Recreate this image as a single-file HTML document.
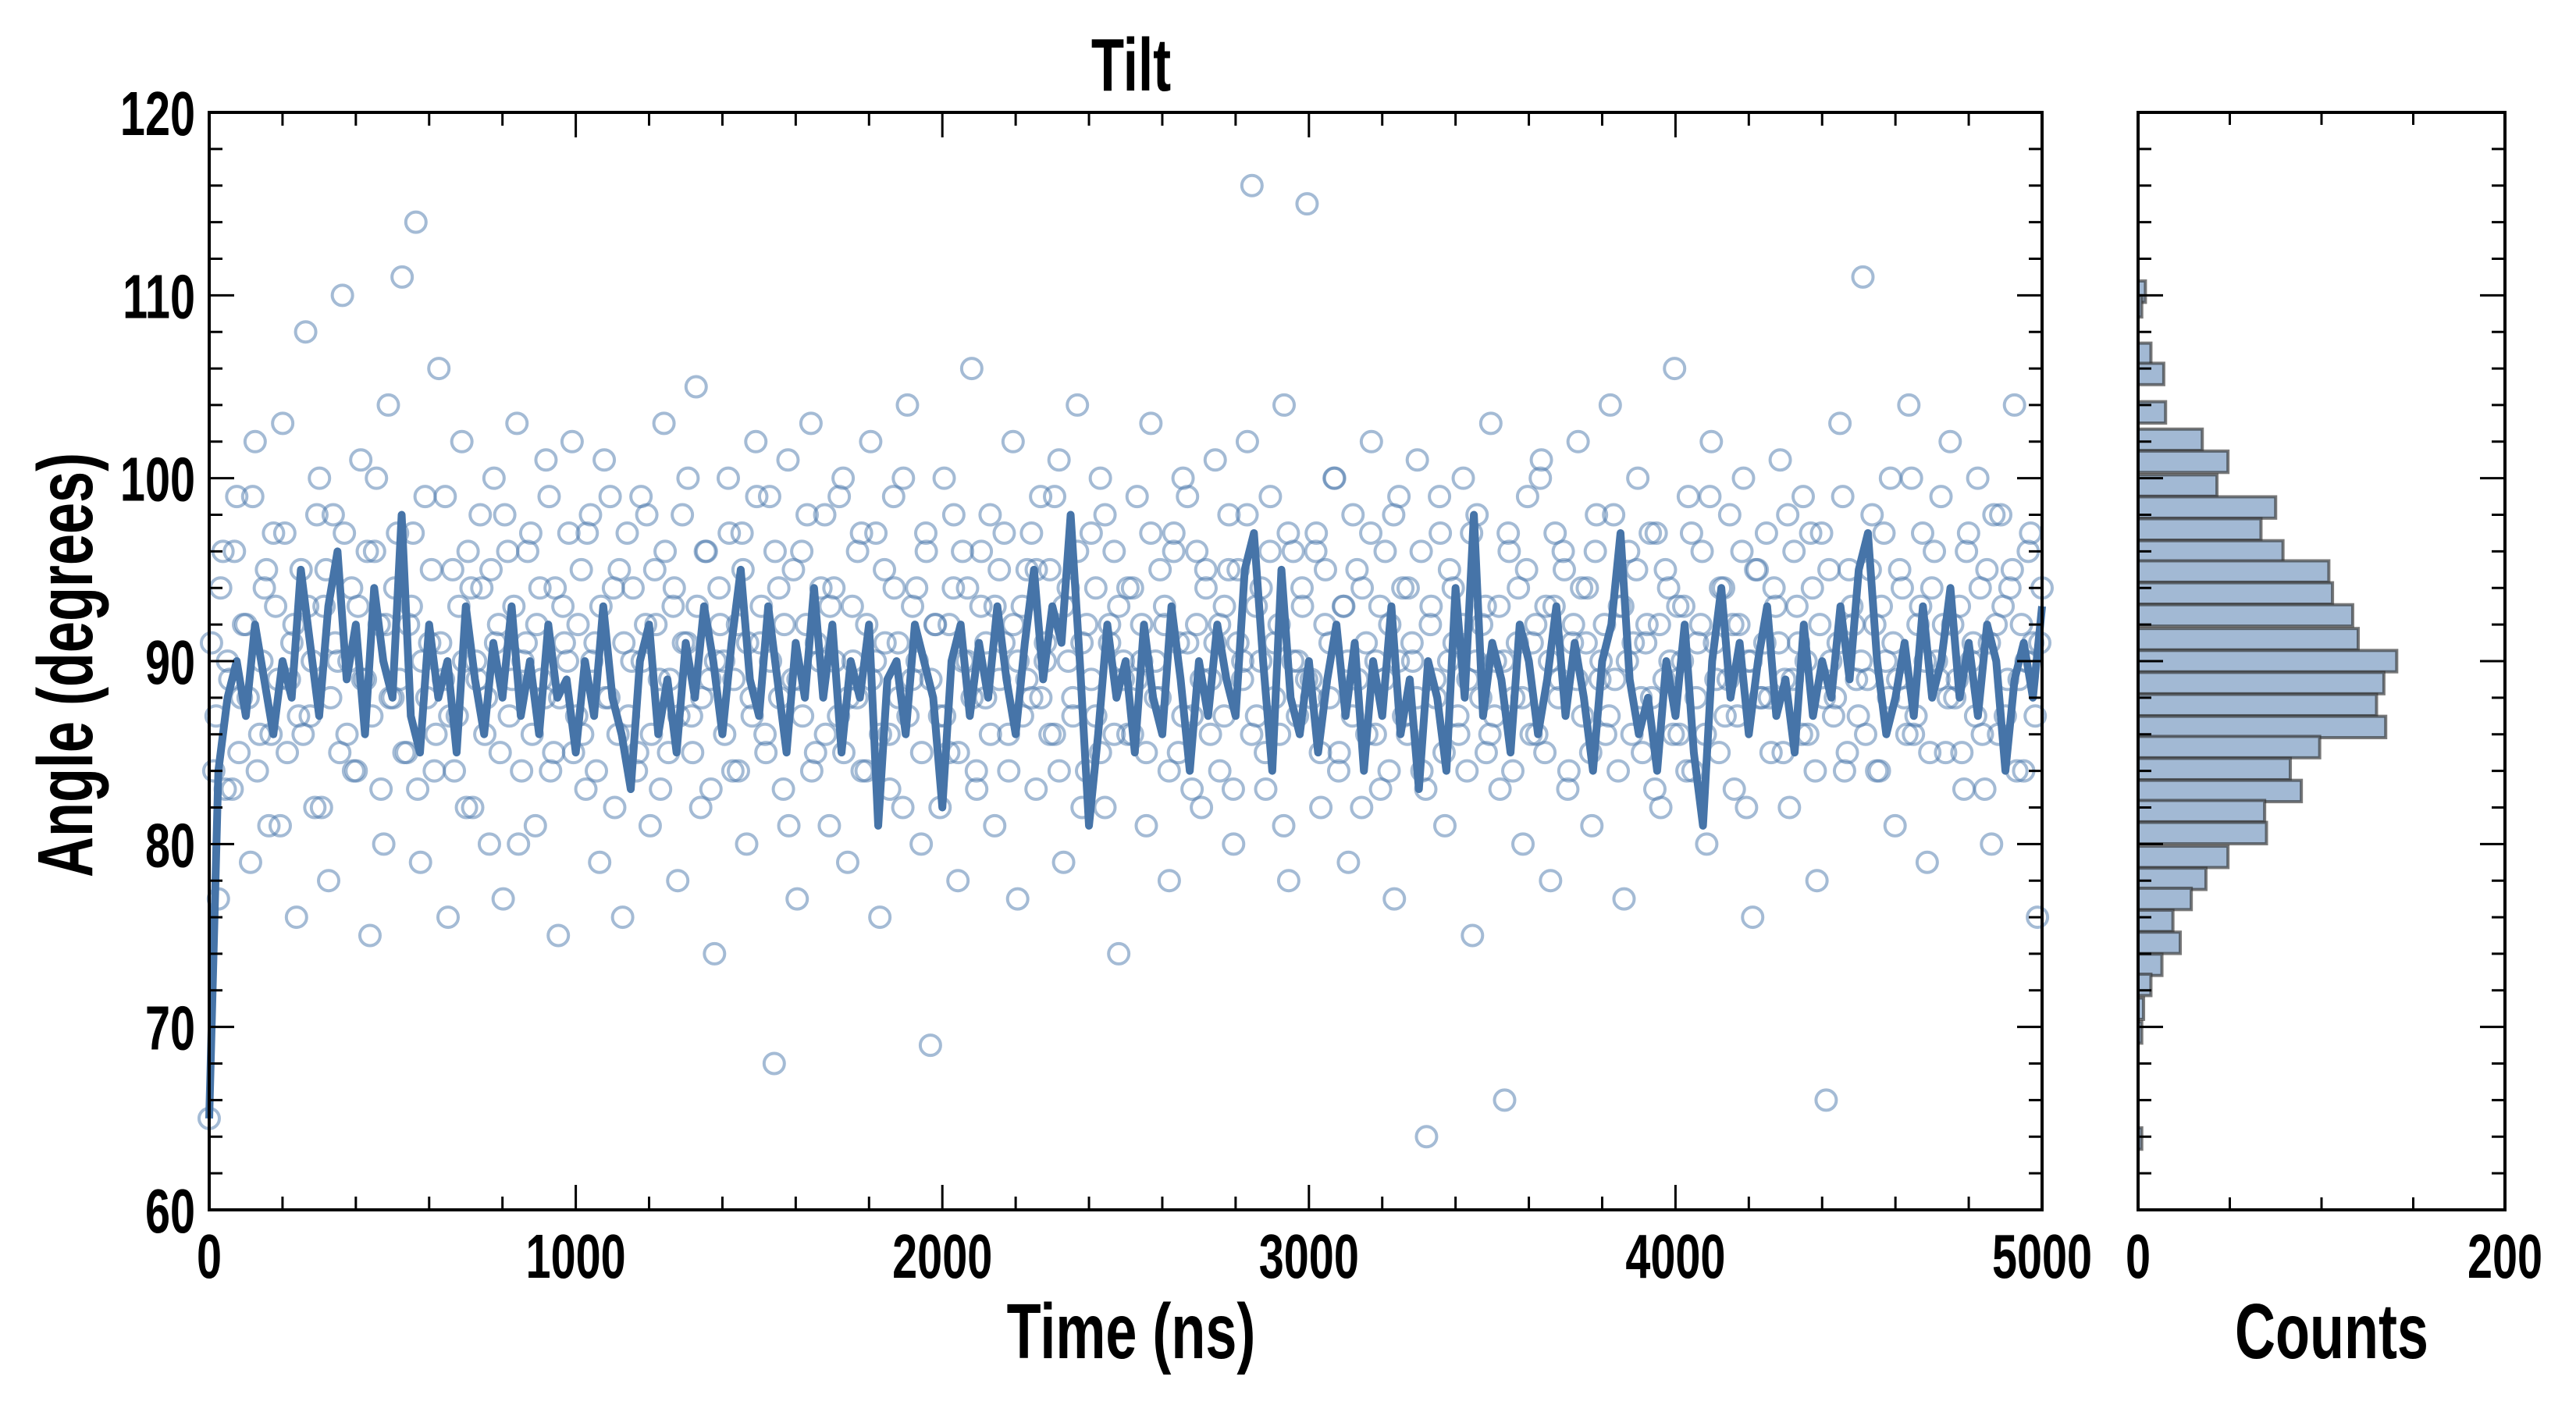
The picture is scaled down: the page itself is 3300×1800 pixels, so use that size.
<!DOCTYPE html>
<html><head><meta charset="utf-8"><style>
html,body{margin:0;padding:0;background:#fff}
svg{display:block}
text{font-family:"Liberation Sans Narrow","Liberation Sans",sans-serif;font-weight:bold;fill:#000}
</style></head><body>
<svg id="chart" width="3300" height="1800" viewBox="0 0 3300 1800" xmlns="http://www.w3.org/2000/svg"></svg>
<script>
// ---- data ----
const lineTimes = Array.from({length:201},(_,i)=>i*25);
const lineAngles = [65,84,88,90,87,92,89,86,90,88,95,91,87,93,96,89,92,86,94,90,88,98,87,85,92,88,90,85,93,89,86,91,88,93,87,90,86,92,88,89,85,90,87,93,88,86,83,90,92,86,89,85,91,88,93,90,86,91,95,89,87,93,89,85,91,88,94,88,92,85,90,88,92,81,89,90,86,92,90,88,82,90,92,87,91,88,93,89,86,91,95,89,93,91,98,90,81,86,92,88,90,85,92,88,86,93,89,84,90,87,92,89,87,95,97,90,84,95,88,86,90,85,89,92,87,91,84,90,87,93,86,89,83,90,88,84,94,88,98,87,91,89,85,92,90,86,89,93,87,91,88,84,90,92,97,89,86,88,84,90,87,92,85,81,90,94,88,91,86,90,93,87,89,85,92,87,90,88,93,89,95,97,90,86,88,91,87,93,88,90,94,88,91,87,92,90,84,89,91,88,93];
const scatterAngles = [
65,84,77,96,90,83,99,88,92,79,102,86,94,81,97,89,103,85,91,76,
95,108,87,82,100,93,78,98,90,110,86,94,84,101,89,75,96,92,80,104,
88,97,111,85,93,114,79,99,91,84,106,89,76,95,87,102,82,94,90,98,
86,80,100,92,77,96,89,103,84,91,97,81,94,88,99,85,75,93,90,102,
87,95,83,98,91,79,101,88,94,86,76,97,90,84,99,92,81,95,89,103,
85,93,78,98,91,87,105,82,96,89,74,94,90,100,84,92,97,80,88,102,
91,86,99,68,94,83,101,89,77,96,92,103,85,90,98,81,94,87,100,79,
93,88,97,84,102,90,76,95,86,99,91,82,104,89,94,80,97,69,92,87,
100,85,94,78,96,90,106,84,93,88,98,81,95,91,86,102,77,93,89,97,
83,99,90,95,86,101,79,94,88,104,91,84,97,87,100,82,92,96,74,89,
94,86,99,90,81,103,88,95,92,78,97,85,100,91,87,96,82,94,89,101,
84,93,98,80,95,90,102,116,87,94,83,99,91,86,104,78,96,90,93,115,
88,97,82,95,91,100,85,93,79,98,89,94,86,102,90,83,96,92,77,99,
87,94,90,101,84,64,93,88,97,81,95,91,86,100,89,75,98,92,85,103,
90,83,66,96,88,94,80,99,91,86,101,93,78,97,89,95,84,92,102,87,
94,81,98,90,86,104,89,93,77,96,91,100,85,92,88,97,82,95,90,106,
86,93,99,84,91,96,80,102,89,94,87,98,83,92,100,90,76,95,88,97,
85,93,101,89,82,96,91,99,86,94,78,97,66,90,88,103,84,95,92,87,
111,89,98,84,93,90,100,81,95,88,104,86,92,97,79,94,90,99,85,102,
88,93,83,97,91,100,86,95,80,92,98,87,94,104,89,84,96,91,76,94];
const scatterAngles2 = [
91,87,94,83,89,96,85,92,88,99,84,90,95,86,93,81,97,89,92,87,
86,93,90,98,82,95,88,91,85,97,90,84,93,89,96,87,100,83,92,88,
94,89,85,92,97,83,90,88,95,86,91,99,87,84,93,90,96,82,89,94,
88,95,91,85,98,87,93,80,90,96,86,92,89,101,84,94,88,91,97,85,
92,86,97,90,84,93,88,99,82,95,91,87,94,85,90,98,86,92,83,96,
89,94,87,91,100,85,93,88,96,83,90,92,86,97,89,84,95,91,87,99,
93,85,90,96,88,92,81,95,89,87,98,84,91,94,86,93,90,99,85,88,
90,96,84,92,89,97,86,91,83,94,88,100,87,93,90,85,96,89,92,82,
87,92,98,85,90,94,88,83,96,91,86,93,89,97,84,92,90,87,95,88,
95,88,91,86,99,84,93,90,87,96,82,92,89,94,85,98,91,86,93,90,
86,94,89,92,85,97,90,88,93,84,96,91,87,99,83,92,89,95,86,91,
92,87,95,83,91,89,98,86,93,90,85,96,88,92,81,97,90,87,94,89,
89,96,85,92,88,100,84,93,90,87,95,82,91,97,86,93,89,84,98,90,
94,86,91,88,96,83,92,89,99,85,90,94,87,92,84,97,90,88,93,86,
87,93,90,97,84,91,88,95,86,92,100,85,90,93,88,96,83,91,89,94,
91,85,96,89,92,87,98,84,93,90,86,95,88,91,97,83,92,89,94,86,
93,90,84,97,88,92,86,99,91,85,94,89,92,87,96,82,90,95,88,91,
88,94,91,85,98,89,93,86,90,97,84,92,88,95,87,91,99,85,93,89,
90,86,95,92,84,97,88,91,89,94,86,100,87,93,90,85,96,89,92,88,
92,89,85,96,90,87,94,83,91,98,86,93,89,95,84,92,90,97,87,91];
const scatterTimes = scatterAngles.map((_,i)=>i*5000/(scatterAngles.length-1));
const scatterTimes2 = scatterAngles2.map((_,i)=>(i+0.5)*5000/scatterAngles2.length);
const binCenters = [110.2,109.4,106.8,105.7,103.6,102.1,100.9,99.6,98.4,97.2,96.0,94.9,93.7,92.5,91.2,90.0,88.8,87.6,86.4,85.3,84.1,82.9,81.8,80.6,79.3,78.1,77.0,75.8,74.6,73.4,72.3,71.0,69.7,63.9];
const binCounts  = [4,2,7,14,15,35,49,43,75,67,79,104,106,117,120,141,134,130,135,99,83,89,69,70,49,37,29,19,23,13,7,3,2,2];
const binWidth = 1.17;
const xTicks = [0,1000,2000,3000,4000,5000];
const yTicks = [60,70,80,90,100,110,120];
const hTicks = [0,200];

// ---- layout ----
const NS="http://www.w3.org/2000/svg";
const svg=document.getElementById('chart');
const L=268,R=2616,T=144,B=1550,HL=2739,HR=3209;
const xs=t=>L+(t/5000)*(R-L);
const ys=a=>B-((a-60)/60)*(B-T);
const hx=c=>HL+(c/200)*(HR-HL);
function mk(tag,attrs,parent){const e=document.createElementNS(NS,tag);for(const k in attrs)e.setAttribute(k,attrs[k]);(parent||svg).appendChild(e);return e;}
function txt(s,x,y,size,anchor,parent,rot,sx){const g=mk('g',{transform:`translate(${x},${y})`+(rot?` rotate(${rot})`:'')+` scale(${sx||0.72},1)`},parent);const t=mk('text',{x:0,y:0,'font-size':size,'text-anchor':anchor},g);t.textContent=s;return g;}

// scatter
const sg=mk('g',{});


function addPts(times,angles){angles.forEach((a,i)=>{
  const c=mk('circle',{cx:xs(times[i]),cy:ys(a),r:13,fill:'none',stroke:'#4a78ab','stroke-width':4,'stroke-opacity':0.5},sg);
  
  
});}
addPts(scatterTimes,scatterAngles);
addPts(scatterTimes2,scatterAngles2);
// line
const pl=mk('polyline',{points:lineTimes.map((t,i)=>xs(t)+','+ys(lineAngles[i])).join(' '),fill:'none',stroke:'#4674a8','stroke-width':10,'stroke-linejoin':'round'});



// histogram
const hg=mk('g',{});


binCenters.forEach((c,i)=>{
  const y1=ys(c+binWidth/2),y2=ys(c-binWidth/2);
  const r=mk('rect',{x:HL,y:y1,width:hx(binCounts[i])-HL,height:y2-y1,fill:'#a2b9d4',stroke:'#333','stroke-opacity':0.65,'stroke-width':4},hg);
  
  
});

// axes frames
function frame(x1,x2,name){const r=mk('rect',{x:x1,y:T,width:x2-x1,height:B-T,fill:'none',stroke:'#000','stroke-width':4});}
frame(L,R,'main-plot-frame');frame(HL,HR,'histogram-frame');
const tg=mk('g',{stroke:'#000','stroke-width':3});
for(let a=60;a<=120;a+=2){const len=(a%10===0)?32:17;const y=ys(a);
  [[L,1],[R,-1],[HL,1],[HR,-1]].forEach(([x,d])=>mk('line',{x1:x,x2:x+d*len,y1:y,y2:y},tg));}
for(let t=0;t<=5000;t+=200){const len=(t%1000===0)?32:17;const x=xs(t);
  mk('line',{x1:x,x2:x,y1:B,y2:B-len},tg);mk('line',{x1:x,x2:x,y1:T,y2:T+len},tg);}
for(let c=0;c<=200;c+=50){const x=hx(c);mk('line',{x1:x,x2:x,y1:B,y2:B-16},tg);mk('line',{x1:x,x2:x,y1:T,y2:T+16},tg);}

// labels
yTicks.forEach(v=>{const g=txt(String(v),250,ys(v)+29,80,'end');});
xTicks.forEach(v=>{const g=txt(String(v),xs(v),1637,80,'middle');});
hTicks.forEach(v=>{const g=txt(String(v),hx(v),1637,80,'middle');});
let g;
g=txt('Tilt',1449,116,96,'middle');
g=txt('Time (ns)',1449,1740,100,'middle');
g=txt('Counts',2987,1740,100,'middle');
g=txt('Angle (degrees)',118,852,100,'middle',null,-90);
</script>
</body></html>
